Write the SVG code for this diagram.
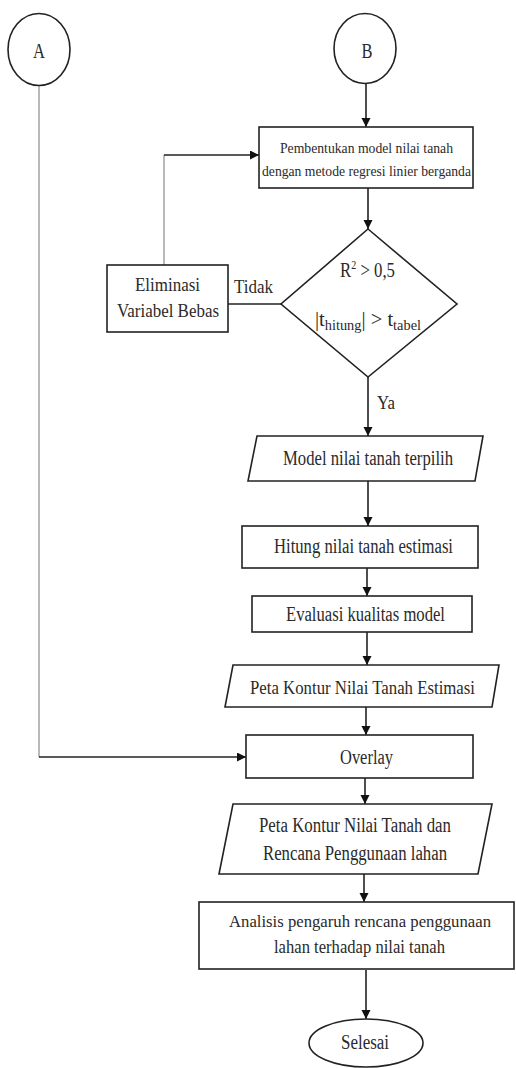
<svg xmlns="http://www.w3.org/2000/svg" width="516" height="1068" viewBox="0 0 516 1068">
<style>
.shape{fill:#fff;stroke:#222;stroke-width:1.6}
.t{font-family:"Liberation Serif","Times New Roman",serif;fill:#2a2a2a;text-anchor:middle}
.l{font-family:"Liberation Serif","Times New Roman",serif;fill:#2a2a2a}
.c{fill:none;stroke:#222;stroke-width:1.6}
.g{fill:none;stroke:#a8a8a8;stroke-width:1.6}
.m{font-size:20px}
</style>
<defs>
<marker id="ah" markerUnits="userSpaceOnUse" markerWidth="10" markerHeight="10" refX="9" refY="4.5" orient="auto">
<path d="M0,0 L9,4.5 L0,9 z" fill="#111"/>
</marker>
</defs>
<rect width="516" height="1068" fill="#fff"/>
<g id="connectors">
<line class="c" x1="366" y1="84" x2="366" y2="127" marker-end="url(#ah)"/>
<line class="c" x1="368" y1="188" x2="368" y2="229" marker-end="url(#ah)"/>
<line class="c" x1="368" y1="377" x2="368" y2="436" marker-end="url(#ah)"/>
<line class="c" x1="368" y1="481" x2="368" y2="526" marker-end="url(#ah)"/>
<line class="c" x1="367" y1="568" x2="367" y2="596" marker-end="url(#ah)"/>
<line class="c" x1="367" y1="632" x2="367" y2="665" marker-end="url(#ah)"/>
<line class="c" x1="366" y1="707" x2="366" y2="735" marker-end="url(#ah)"/>
<line class="c" x1="365" y1="778" x2="365" y2="804" marker-end="url(#ah)"/>
<line class="c" x1="364" y1="874" x2="364" y2="902" marker-end="url(#ah)"/>
<line class="c" x1="366" y1="970" x2="366" y2="1019" marker-end="url(#ah)"/>
<line class="c" x1="281" y1="304" x2="228" y2="304" stroke-width="1.2"/>
<line class="g" x1="164" y1="265" x2="164" y2="155"/>
<line class="c" x1="164" y1="155" x2="259" y2="155" marker-end="url(#ah)"/>
<line class="g" x1="39" y1="86" x2="39" y2="757"/>
<line class="c" x1="39" y1="757" x2="246" y2="757" marker-end="url(#ah)"/>
<text class="l" x="234" y="293" font-size="19" textLength="39" lengthAdjust="spacingAndGlyphs">Tidak</text>
<text class="l" x="377" y="409" font-size="19" textLength="18" lengthAdjust="spacingAndGlyphs">Ya</text>
</g>
<g id="nodeA">
<ellipse class="shape" cx="39" cy="49.5" rx="31" ry="36"/>
<text class="t" x="39" y="58" font-size="20" textLength="12" lengthAdjust="spacingAndGlyphs">A</text>
</g>
<g id="nodeB">
<ellipse class="shape" cx="365" cy="48.5" rx="31" ry="35"/>
<text class="t" x="367" y="58" font-size="20" textLength="11" lengthAdjust="spacingAndGlyphs">B</text>
</g>
<g id="pembentukan">
<rect class="shape" x="259" y="127" width="214" height="61"/>
<text class="t" x="366.5" y="153" font-size="13.8" textLength="173" lengthAdjust="spacingAndGlyphs">Pembentukan model nilai tanah</text>
<text class="t" x="366.5" y="176" font-size="13.8" textLength="209" lengthAdjust="spacingAndGlyphs">dengan metode regresi linier berganda</text>
</g>
<g id="decision">
<polygon class="shape" points="368,229 457,304 368,377 281,304"/>
<text class="l" x="340" y="277" font-size="20" textLength="55" lengthAdjust="spacingAndGlyphs">R<tspan dy="-8" font-size="12">2</tspan><tspan dy="8"> &gt; 0,5</tspan></text>
<text class="l" x="315" y="326" font-size="20" textLength="106" lengthAdjust="spacingAndGlyphs">|t<tspan dy="4" font-size="14">hitung</tspan><tspan dy="-4">| &gt; t</tspan><tspan dy="4" font-size="14">tabel</tspan></text>
</g>
<g id="eliminasi">
<rect class="shape" x="107" y="265" width="121" height="67"/>
<text class="t" x="167.5" y="291" font-size="19" textLength="65" lengthAdjust="spacingAndGlyphs">Eliminasi</text>
<text class="t" x="168" y="317" font-size="18.5" textLength="102" lengthAdjust="spacingAndGlyphs">Variabel Bebas</text>
</g>
<g id="model">
<polygon class="shape" points="257,436 483,436 475,481 248,481"/>
<text class="t m" x="368" y="465" textLength="170" lengthAdjust="spacingAndGlyphs">Model nilai tanah terpilih</text>
</g>
<g id="hitung">
<rect class="shape" x="242" y="526" width="236" height="42"/>
<text class="t m" x="363.5" y="553" textLength="179" lengthAdjust="spacingAndGlyphs">Hitung nilai tanah estimasi</text>
</g>
<g id="evaluasi">
<rect class="shape" x="252" y="596" width="220" height="36"/>
<text class="t m" x="365.5" y="621" textLength="159" lengthAdjust="spacingAndGlyphs">Evaluasi kualitas model</text>
</g>
<g id="peta1">
<polygon class="shape" points="233,665 499,665 492,707 225,707"/>
<text class="t" x="362.5" y="694" font-size="18.5" textLength="225" lengthAdjust="spacingAndGlyphs">Peta Kontur Nilai Tanah Estimasi</text>
</g>
<g id="overlay">
<rect class="shape" x="246" y="735" width="227" height="43"/>
<text class="t m" x="366.5" y="764" textLength="53" lengthAdjust="spacingAndGlyphs">Overlay</text>
</g>
<g id="peta2">
<polygon class="shape" points="233,804 492,804 478,874 219,874"/>
<text class="t m" x="355" y="832" textLength="192" lengthAdjust="spacingAndGlyphs">Peta Kontur Nilai Tanah dan</text>
<text class="t m" x="355" y="860" textLength="184" lengthAdjust="spacingAndGlyphs">Rencana Penggunaan lahan</text>
</g>
<g id="analisis">
<rect class="shape" x="199" y="902" width="315" height="67"/>
<text class="t" x="360" y="927" font-size="16.8" textLength="262" lengthAdjust="spacingAndGlyphs">Analisis pengaruh rencana penggunaan</text>
<text class="t" x="359.5" y="953" font-size="18" textLength="171" lengthAdjust="spacingAndGlyphs">lahan terhadap nilai tanah</text>
</g>
<g id="selesai">
<ellipse class="shape" cx="366" cy="1043" rx="57" ry="24"/>
<text class="t m" x="365" y="1049" textLength="48" lengthAdjust="spacingAndGlyphs">Selesai</text>
</g>
</svg>
